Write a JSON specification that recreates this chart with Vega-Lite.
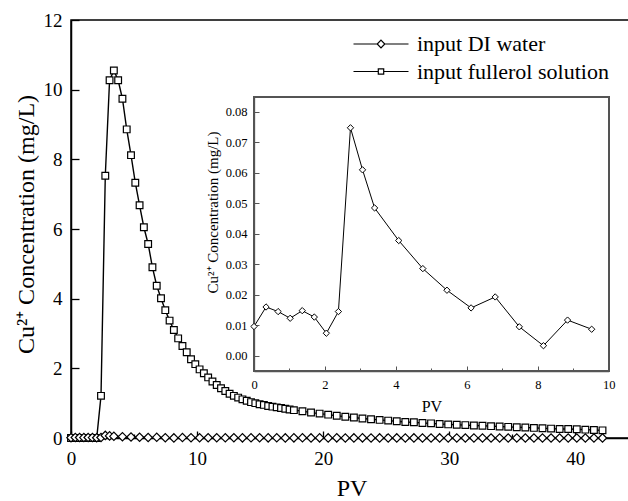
{
  "$schema": "https://vega.github.io/schema/vega-lite/v6.json",
  "width": 561,
  "height": 418,
  "padding": {"left": 71, "top": 20, "right": 0, "bottom": 63},
  "autosize": {"type": "none"},
  "background": "white",
  "config": {
    "font": "Liberation Serif",
    "view": {"stroke": "black", "strokeWidth": 1.5},
    "axis": {"grid": false, "labelFlush": false, "labelOverlap": false, "labelColor": "black", "titleColor": "black", "titleFontWeight": "normal"}
  },
  "datasets": {
    "fu": [
      {"series": "input fullerol solution", "pv": 0.00, "c": 0},
      {"series": "input fullerol solution", "pv": 0.34, "c": 0},
      {"series": "input fullerol solution", "pv": 0.68, "c": 0},
      {"series": "input fullerol solution", "pv": 1.02, "c": 0},
      {"series": "input fullerol solution", "pv": 1.36, "c": 0},
      {"series": "input fullerol solution", "pv": 1.70, "c": 0},
      {"series": "input fullerol solution", "pv": 2.04, "c": 0},
      {"series": "input fullerol solution", "pv": 2.38, "c": 1.21},
      {"series": "input fullerol solution", "pv": 2.72, "c": 7.53},
      {"series": "input fullerol solution", "pv": 3.06, "c": 10.27},
      {"series": "input fullerol solution", "pv": 3.40, "c": 10.55},
      {"series": "input fullerol solution", "pv": 3.74, "c": 10.27},
      {"series": "input fullerol solution", "pv": 4.08, "c": 9.74},
      {"series": "input fullerol solution", "pv": 4.42, "c": 8.86},
      {"series": "input fullerol solution", "pv": 4.76, "c": 8.12},
      {"series": "input fullerol solution", "pv": 5.10, "c": 7.33},
      {"series": "input fullerol solution", "pv": 5.44, "c": 6.68},
      {"series": "input fullerol solution", "pv": 5.78, "c": 6.05},
      {"series": "input fullerol solution", "pv": 6.12, "c": 5.57},
      {"series": "input fullerol solution", "pv": 6.46, "c": 4.90},
      {"series": "input fullerol solution", "pv": 6.80, "c": 4.37},
      {"series": "input fullerol solution", "pv": 7.14, "c": 4.01},
      {"series": "input fullerol solution", "pv": 7.48, "c": 3.67},
      {"series": "input fullerol solution", "pv": 7.82, "c": 3.37},
      {"series": "input fullerol solution", "pv": 8.16, "c": 3.10},
      {"series": "input fullerol solution", "pv": 8.50, "c": 2.86},
      {"series": "input fullerol solution", "pv": 8.84, "c": 2.64},
      {"series": "input fullerol solution", "pv": 9.18, "c": 2.46},
      {"series": "input fullerol solution", "pv": 9.52, "c": 2.26},
      {"series": "input fullerol solution", "pv": 9.86, "c": 2.12},
      {"series": "input fullerol solution", "pv": 10.20, "c": 1.97},
      {"series": "input fullerol solution", "pv": 10.54, "c": 1.86},
      {"series": "input fullerol solution", "pv": 10.88, "c": 1.74},
      {"series": "input fullerol solution", "pv": 11.22, "c": 1.62},
      {"series": "input fullerol solution", "pv": 11.56, "c": 1.52},
      {"series": "input fullerol solution", "pv": 11.90, "c": 1.43},
      {"series": "input fullerol solution", "pv": 12.24, "c": 1.35},
      {"series": "input fullerol solution", "pv": 12.58, "c": 1.27},
      {"series": "input fullerol solution", "pv": 12.92, "c": 1.21},
      {"series": "input fullerol solution", "pv": 13.26, "c": 1.16},
      {"series": "input fullerol solution", "pv": 13.60, "c": 1.11},
      {"series": "input fullerol solution", "pv": 13.94, "c": 1.07},
      {"series": "input fullerol solution", "pv": 14.28, "c": 1.03},
      {"series": "input fullerol solution", "pv": 14.62, "c": 1.00},
      {"series": "input fullerol solution", "pv": 14.96, "c": 0.97},
      {"series": "input fullerol solution", "pv": 15.30, "c": 0.95},
      {"series": "input fullerol solution", "pv": 15.64, "c": 0.92},
      {"series": "input fullerol solution", "pv": 15.98, "c": 0.90},
      {"series": "input fullerol solution", "pv": 16.32, "c": 0.88},
      {"series": "input fullerol solution", "pv": 16.66, "c": 0.86},
      {"series": "input fullerol solution", "pv": 17.00, "c": 0.84},
      {"series": "input fullerol solution", "pv": 17.34, "c": 0.82},
      {"series": "input fullerol solution", "pv": 17.68, "c": 0.80},
      {"series": "input fullerol solution", "pv": 18.36, "c": 0.77},
      {"series": "input fullerol solution", "pv": 19.04, "c": 0.73},
      {"series": "input fullerol solution", "pv": 19.72, "c": 0.70},
      {"series": "input fullerol solution", "pv": 20.40, "c": 0.67},
      {"series": "input fullerol solution", "pv": 21.08, "c": 0.64},
      {"series": "input fullerol solution", "pv": 21.76, "c": 0.61},
      {"series": "input fullerol solution", "pv": 22.44, "c": 0.59},
      {"series": "input fullerol solution", "pv": 23.12, "c": 0.56},
      {"series": "input fullerol solution", "pv": 23.80, "c": 0.54},
      {"series": "input fullerol solution", "pv": 24.48, "c": 0.52},
      {"series": "input fullerol solution", "pv": 25.16, "c": 0.50},
      {"series": "input fullerol solution", "pv": 25.84, "c": 0.48},
      {"series": "input fullerol solution", "pv": 26.52, "c": 0.46},
      {"series": "input fullerol solution", "pv": 27.20, "c": 0.45},
      {"series": "input fullerol solution", "pv": 27.88, "c": 0.43},
      {"series": "input fullerol solution", "pv": 28.56, "c": 0.42},
      {"series": "input fullerol solution", "pv": 29.24, "c": 0.40},
      {"series": "input fullerol solution", "pv": 29.92, "c": 0.39},
      {"series": "input fullerol solution", "pv": 30.60, "c": 0.38},
      {"series": "input fullerol solution", "pv": 31.28, "c": 0.37},
      {"series": "input fullerol solution", "pv": 31.96, "c": 0.36},
      {"series": "input fullerol solution", "pv": 32.64, "c": 0.35},
      {"series": "input fullerol solution", "pv": 33.32, "c": 0.34},
      {"series": "input fullerol solution", "pv": 34.00, "c": 0.33},
      {"series": "input fullerol solution", "pv": 34.68, "c": 0.32},
      {"series": "input fullerol solution", "pv": 35.36, "c": 0.31},
      {"series": "input fullerol solution", "pv": 36.04, "c": 0.30},
      {"series": "input fullerol solution", "pv": 36.72, "c": 0.29},
      {"series": "input fullerol solution", "pv": 37.40, "c": 0.28},
      {"series": "input fullerol solution", "pv": 38.08, "c": 0.27},
      {"series": "input fullerol solution", "pv": 38.76, "c": 0.26},
      {"series": "input fullerol solution", "pv": 39.44, "c": 0.26},
      {"series": "input fullerol solution", "pv": 40.12, "c": 0.25},
      {"series": "input fullerol solution", "pv": 40.80, "c": 0.24},
      {"series": "input fullerol solution", "pv": 41.48, "c": 0.23},
      {"series": "input fullerol solution", "pv": 42.16, "c": 0.22}
    ],
    "di": [
      {"series": "input DI water", "pv": 0.00, "c": 0.0096},
      {"series": "input DI water", "pv": 0.34, "c": 0.0160},
      {"series": "input DI water", "pv": 0.68, "c": 0.0145},
      {"series": "input DI water", "pv": 1.02, "c": 0.0123},
      {"series": "input DI water", "pv": 1.36, "c": 0.0148},
      {"series": "input DI water", "pv": 1.70, "c": 0.0127},
      {"series": "input DI water", "pv": 2.04, "c": 0.0074},
      {"series": "input DI water", "pv": 2.38, "c": 0.0145},
      {"series": "input DI water", "pv": 2.72, "c": 0.0748},
      {"series": "input DI water", "pv": 3.06, "c": 0.0610},
      {"series": "input DI water", "pv": 3.40, "c": 0.0485},
      {"series": "input DI water", "pv": 4.08, "c": 0.0378},
      {"series": "input DI water", "pv": 4.76, "c": 0.0286},
      {"series": "input DI water", "pv": 5.44, "c": 0.0215},
      {"series": "input DI water", "pv": 6.12, "c": 0.0157},
      {"series": "input DI water", "pv": 6.80, "c": 0.0193},
      {"series": "input DI water", "pv": 7.48, "c": 0.0095},
      {"series": "input DI water", "pv": 8.16, "c": 0.0033},
      {"series": "input DI water", "pv": 8.84, "c": 0.0117},
      {"series": "input DI water", "pv": 9.52, "c": 0.0087},
      {"series": "input DI water", "pv": 10.20, "c": 0.008},
      {"series": "input DI water", "pv": 10.88, "c": 0.006},
      {"series": "input DI water", "pv": 11.56, "c": 0.007},
      {"series": "input DI water", "pv": 12.24, "c": 0.005},
      {"series": "input DI water", "pv": 12.92, "c": 0.006},
      {"series": "input DI water", "pv": 13.60, "c": 0.004},
      {"series": "input DI water", "pv": 14.28, "c": 0.005},
      {"series": "input DI water", "pv": 14.96, "c": 0.006},
      {"series": "input DI water", "pv": 15.64, "c": 0.004},
      {"series": "input DI water", "pv": 16.32, "c": 0.005},
      {"series": "input DI water", "pv": 17.00, "c": 0.003},
      {"series": "input DI water", "pv": 17.68, "c": 0.004},
      {"series": "input DI water", "pv": 18.36, "c": 0.005},
      {"series": "input DI water", "pv": 19.04, "c": 0.003},
      {"series": "input DI water", "pv": 19.72, "c": 0.004},
      {"series": "input DI water", "pv": 20.40, "c": 0.003},
      {"series": "input DI water", "pv": 21.08, "c": 0.004},
      {"series": "input DI water", "pv": 21.76, "c": 0.002},
      {"series": "input DI water", "pv": 22.44, "c": 0.003},
      {"series": "input DI water", "pv": 23.12, "c": 0.004},
      {"series": "input DI water", "pv": 23.80, "c": 0.002},
      {"series": "input DI water", "pv": 24.48, "c": 0.003},
      {"series": "input DI water", "pv": 25.16, "c": 0.002},
      {"series": "input DI water", "pv": 25.84, "c": 0.003},
      {"series": "input DI water", "pv": 26.52, "c": 0.002},
      {"series": "input DI water", "pv": 27.20, "c": 0.003},
      {"series": "input DI water", "pv": 27.88, "c": 0.002},
      {"series": "input DI water", "pv": 28.56, "c": 0.002},
      {"series": "input DI water", "pv": 29.24, "c": 0.003},
      {"series": "input DI water", "pv": 29.92, "c": 0.002},
      {"series": "input DI water", "pv": 30.60, "c": 0.002},
      {"series": "input DI water", "pv": 31.28, "c": 0.001},
      {"series": "input DI water", "pv": 31.96, "c": 0.002},
      {"series": "input DI water", "pv": 32.64, "c": 0.002},
      {"series": "input DI water", "pv": 33.32, "c": 0.001},
      {"series": "input DI water", "pv": 34.00, "c": 0.002},
      {"series": "input DI water", "pv": 34.68, "c": 0.001},
      {"series": "input DI water", "pv": 35.36, "c": 0.002},
      {"series": "input DI water", "pv": 36.04, "c": 0.001},
      {"series": "input DI water", "pv": 36.72, "c": 0.001},
      {"series": "input DI water", "pv": 37.40, "c": 0.002},
      {"series": "input DI water", "pv": 38.08, "c": 0.001},
      {"series": "input DI water", "pv": 38.76, "c": 0.001},
      {"series": "input DI water", "pv": 39.44, "c": 0.001},
      {"series": "input DI water", "pv": 40.12, "c": 0.001},
      {"series": "input DI water", "pv": 40.80, "c": 0.001},
      {"series": "input DI water", "pv": 41.48, "c": 0.001},
      {"series": "input DI water", "pv": 42.16, "c": 0.001}
    ]
  },
  "layer": [
    {
      "layer": [
        {
          "data": {"name": "fu"},
          "mark": {"type": "line", "strokeWidth": 1.4},
          "encoding": {
            "x": {"field": "pv", "type": "quantitative", "scale": {"domain": [0, 44.5], "nice": false, "zero": false},
              "axis": {"orient": "bottom", "title": "PV", "values": [0, 5, 10, 15, 20, 25, 30, 35, 40], "format": "d",
                "labelExpr": "datum.value % 10 === 0 ? datum.label : ''",
                "tickSize": {"condition": {"test": "datum.value % 10 === 0", "value": -7}, "value": -4},
                "domainColor": "black", "domainWidth": 1.5, "tickColor": "black", "tickWidth": 1.3,
                "labelFontSize": 19, "labelPadding": 18, "titleFontSize": 24, "titlePadding": 5}},
            "y": {"field": "c", "type": "quantitative", "scale": {"domain": [0, 12], "nice": false, "zero": false},
              "axis": {"orient": "left", "title": "Cu²⁺ Concentration (mg/L)", "values": [0, 1, 2, 3, 4, 5, 6, 7, 8, 9, 10, 11, 12], "format": "d",
                "labelExpr": "datum.value % 2 === 0 ? datum.label : ''",
                "tickSize": {"condition": {"test": "datum.value % 2 === 0", "value": -8}, "value": -4},
                "domainColor": "black", "domainWidth": 1.5, "tickColor": "black", "tickWidth": 1.3,
                "labelFontSize": 19, "labelPadding": 17, "titleFontSize": 24, "titlePadding": 5, "titleY": 204}},
            "stroke": {"field": "series", "type": "nominal", "scale": {"range": ["black"]},
              "legend": {"orient": "none", "legendX": 299, "legendY": 40.5, "title": null, "padding": 0,
                "labelFontSize": 22, "labelOffset": 25, "symbolSize": 400, "labelColor": "black", "labelLimit": 400,
                "symbolType": "M-2.75,0H-0.27M0.27,0H2.75M-0.27,-0.27H0.27V0.27H-0.27Z",
                "symbolStrokeWidth": 1.2, "symbolFillColor": "white", "symbolStrokeColor": "black"}}
          }
        },
        {
          "data": {"name": "di"},
          "mark": {"type": "line", "strokeWidth": 1.4},
          "encoding": {
            "x": {"field": "pv", "type": "quantitative"},
            "y": {"field": "c", "type": "quantitative"},
            "stroke": {"field": "series", "type": "nominal", "scale": {"range": ["black"]},
              "legend": {"orient": "none", "legendX": 299, "legendY": 13, "title": null, "padding": 0,
                "labelFontSize": 22, "labelOffset": 25, "symbolSize": 400, "labelColor": "black", "labelLimit": 400,
                "symbolType": "M-2.75,0H-0.38M0.38,0H2.75M0,-0.38L0.38,0L0,0.38L-0.38,0Z",
                "symbolStrokeWidth": 1.2, "symbolFillColor": "white", "symbolStrokeColor": "black"}}
          }
        },
        {
          "data": {"name": "fu"},
          "mark": {"type": "point", "shape": "square", "filled": true, "fill": "white", "stroke": "black", "strokeWidth": 1.2, "opacity": 1, "size": 45},
          "encoding": {
            "x": {"field": "pv", "type": "quantitative"},
            "y": {"field": "c", "type": "quantitative"}
          }
        },
        {
          "data": {"name": "di"},
          "mark": {"type": "point", "shape": "diamond", "filled": true, "fill": "white", "stroke": "black", "strokeWidth": 1.2, "opacity": 1, "size": 70},
          "encoding": {
            "x": {"field": "pv", "type": "quantitative"},
            "y": {"field": "c", "type": "quantitative"}
          }
        }
      ],
      "resolve": {"scale": {"stroke": "independent"}, "legend": {"stroke": "independent"}}
    },
    {
      "data": {"name": "di"},
      "transform": [{"filter": "datum.pv <= 10"}],
      "layer": [
        {
          "mark": {"type": "rect", "filled": false, "stroke": "#555555", "strokeWidth": 1.3},
          "encoding": {
            "x": {"datum": 0, "type": "quantitative", "scale": {"domain": [0, 10], "range": [183, 537.7], "nice": false, "zero": false},
              "axis": {"orient": "bottom", "offset": -67, "title": "PV", "values": [0, 1, 2, 3, 4, 5, 6, 7, 8, 9, 10], "format": "d",
                "labelExpr": "datum.value % 2 === 0 ? datum.label : ''",
                "tickSize": {"condition": {"test": "datum.value % 2 === 0", "value": -5}, "value": -3},
                "domainColor": "#555555", "domainWidth": 1.3, "tickColor": "#555555", "tickWidth": 1,
                "labelFontSize": 12.5, "labelPadding": 12, "titleFontSize": 16, "titlePadding": 6}},
            "x2": {"datum": 10},
            "y": {"datum": -0.005, "type": "quantitative", "scale": {"domain": [-0.005, 0.085], "range": [351, 76.7], "nice": false, "zero": false},
              "axis": {"orient": "left", "offset": -183, "title": "Cu²⁺ Concentration (mg/L)",
                "values": [0, 0.005, 0.01, 0.015, 0.02, 0.025, 0.03, 0.035, 0.04, 0.045, 0.05, 0.055, 0.06, 0.065, 0.07, 0.075, 0.08],
                "format": ".2f",
                "labelExpr": "round(datum.value * 1000) % 10 === 0 ? datum.label : ''",
                "tickSize": {"condition": {"test": "round(datum.value * 1000) % 10 === 0", "value": -5}, "value": -3},
                "domainColor": "#555555", "domainWidth": 1.3, "tickColor": "#555555", "tickWidth": 1,
                "labelFontSize": 12.5, "labelPadding": 12, "titleFontSize": 15, "titlePadding": 5, "titleY": 192}},
            "y2": {"datum": 0.085}
          }
        },
        {
          "mark": {"type": "line", "color": "black", "strokeWidth": 1},
          "encoding": {
            "x": {"field": "pv", "type": "quantitative"},
            "y": {"field": "c", "type": "quantitative"}
          }
        },
        {
          "mark": {"type": "point", "shape": "diamond", "filled": true, "fill": "white", "stroke": "black", "strokeWidth": 1, "opacity": 1, "size": 40},
          "encoding": {
            "x": {"field": "pv", "type": "quantitative"},
            "y": {"field": "c", "type": "quantitative"}
          }
        }
      ]
    }
  ],
  "resolve": {"scale": {"x": "independent", "y": "independent"}, "axis": {"x": "independent", "y": "independent"}}
}
